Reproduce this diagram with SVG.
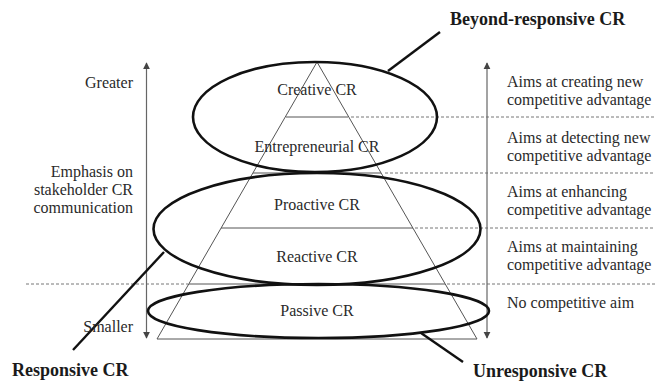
<svg xmlns="http://www.w3.org/2000/svg" width="655" height="381" viewBox="0 0 655 381">
<defs>
<marker id="ah" viewBox="0 0 10 10" refX="9" refY="5" markerWidth="7" markerHeight="8" markerUnits="userSpaceOnUse" orient="auto-start-reverse">
<path d="M0,0 L10,5 L0,10 z" fill="#444"/>
</marker>
</defs>
<style>
.t{font-family:'Liberation Serif','Times New Roman',serif;font-size:16px;fill:#2a2a2a}
.b{font-family:'Liberation Serif','Times New Roman',serif;font-size:18px;font-weight:bold;fill:#1a1a1a}
.thin{stroke:#555;stroke-width:1;fill:none}
.dash{stroke:#777;stroke-width:1;stroke-dasharray:3 2;fill:none}
.ell{stroke:#111;stroke-width:2.6;fill:none}
.lead{stroke:#111;stroke-width:2.4;fill:none}
.arr{stroke:#666;stroke-width:1.2;fill:none}
</style>
<rect width="655" height="381" fill="#fff"/>
<g id="pyramid">
<path class="thin" d="M317,62 L157,339 L477,339 Z"/>
<line class="thin" x1="286" y1="117" x2="348" y2="117"/>
<line class="thin" x1="253" y1="173" x2="381" y2="173"/>
<line class="thin" x1="221" y1="228" x2="413" y2="228"/>
<line class="thin" x1="189" y1="284" x2="445" y2="284"/>
</g>
<g id="dividers">
<line class="dash" x1="351" y1="117" x2="655" y2="117"/>
<line class="dash" x1="385" y1="173" x2="655" y2="173"/>
<line class="dash" x1="415" y1="228" x2="655" y2="228"/>
<line class="dash" x1="447" y1="284" x2="655" y2="284"/>
<line class="dash" x1="26" y1="284" x2="188" y2="284"/>
</g>
<g id="connectors">
<line class="arr" x1="146.5" y1="63" x2="146.5" y2="338" marker-start="url(#ah)" marker-end="url(#ah)"/>
<line class="arr" x1="487" y1="63" x2="487" y2="338" marker-start="url(#ah)" marker-end="url(#ah)"/>
<line class="lead" x1="388" y1="71" x2="440" y2="32"/>
<line class="lead" x1="164" y1="252" x2="73" y2="350"/>
<line class="lead" x1="421" y1="333" x2="463" y2="362"/>
</g>
<g id="beyond-responsive">
<ellipse class="ell" cx="315" cy="117" rx="122" ry="55"/>
<text class="b" x="450" y="25">Beyond-responsive CR</text>
</g>
<g id="responsive">
<ellipse class="ell" cx="317" cy="229" rx="163.5" ry="56"/>
<text class="b" x="12" y="376">Responsive CR</text>
</g>
<g id="unresponsive">
<ellipse class="ell" cx="318.5" cy="311" rx="170.5" ry="27"/>
<text class="b" x="473" y="377">Unresponsive CR</text>
</g>
<g id="levels" text-anchor="middle">
<text class="t" x="317" y="95">Creative CR</text>
<text class="t" x="317" y="152">Entrepreneurial CR</text>
<text class="t" x="317" y="210">Proactive CR</text>
<text class="t" x="317" y="262">Reactive CR</text>
<text class="t" x="317" y="316">Passive CR</text>
</g>
<g id="emphasis" text-anchor="end">
<text class="t" x="133" y="88">Greater</text>
<text class="t" x="133" y="177">Emphasis on</text>
<text class="t" x="133" y="195">stakeholder CR</text>
<text class="t" x="133" y="213">communication</text>
<text class="t" x="133" y="332">Smaller</text>
</g>
<g id="aims">
<text class="t" x="507" y="87">Aims at creating new</text>
<text class="t" x="507" y="105">competitive advantage</text>
<text class="t" x="507" y="143">Aims at detecting new</text>
<text class="t" x="507" y="161">competitive advantage</text>
<text class="t" x="507" y="197">Aims at enhancing</text>
<text class="t" x="507" y="215">competitive advantage</text>
<text class="t" x="507" y="252">Aims at maintaining</text>
<text class="t" x="507" y="270">competitive advantage</text>
<text class="t" x="507" y="308">No competitive aim</text>
</g>
</svg>
